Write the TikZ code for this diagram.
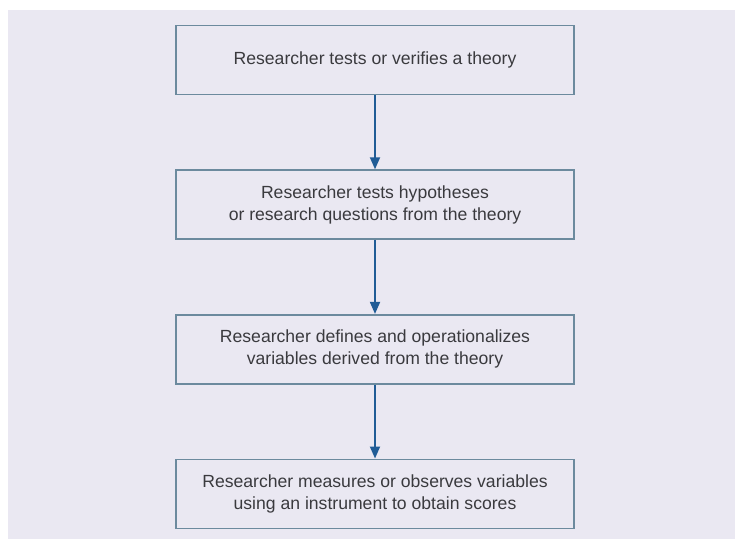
\documentclass[tikz,border=0pt]{standalone}
\usepackage{fontspec}
\setmainfont{Liberation Sans}
\usetikzlibrary{positioning, arrows.meta}
\definecolor{panel}{RGB}{234,232,242}
\definecolor{frame}{RGB}{108,138,158}
\definecolor{flow}{RGB}{32,92,150}
\definecolor{ink}{RGB}{58,58,62}

\begin{document}
\begin{tikzpicture}[x=1pt, y=1pt,
  stepbox/.style={draw=frame, line width=1.6pt, minimum width=398pt, minimum height=69pt, align=center, text=ink, font=\fontsize{17.6}{22}\selectfont},
  flowarrow/.style={draw=flow, line width=1.8pt, -{Triangle[length=12pt, width=10pt]}},
  node distance=74pt]
\useasboundingbox (0,0) rectangle (735,539);
\fill[panel] (8,0) rectangle (735,529);
\node[stepbox] (S1) at (375,479) {Researcher tests or verifies a theory};
\node[stepbox, below = of S1] (S2) {Researcher tests hypotheses\\or research questions from the theory};
\node[stepbox, below = of S2] (S3) {Researcher defines and operationalizes\\variables derived from the theory};
\node[stepbox, below = of S3] (S4) {Researcher measures or observes variables\\using an instrument to obtain scores};
\draw[flowarrow] (S1) -- (S2);
\draw[flowarrow] (S2) -- (S3);
\draw[flowarrow] (S3) -- (S4);
\end{tikzpicture}
\end{document}
